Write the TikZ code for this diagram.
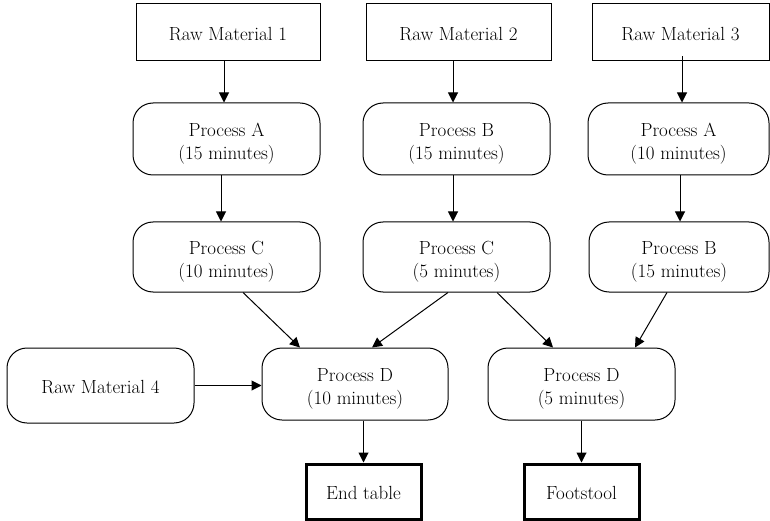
\documentclass[tikz,border=0pt]{standalone}
\usetikzlibrary{arrows.meta}
\newcommand\toppad{\rule{0pt}{23pt}}
\begin{document}
\begin{tikzpicture}[x=1pt,y=-1pt,
  base/.style={draw=black,line width=1pt,align=center,inner sep=0pt,
    font=\fontsize{19}{23.5}\selectfont,text=black},
  rawbox/.style={base,rectangle,minimum width=#1,minimum height=57pt},
  procbox/.style={base,rectangle,rounded corners=20pt,minimum width=#1,minimum height=72pt},
  endbox/.style={base,rectangle,line width=3pt,minimum width=115pt,minimum height=55pt},
  arr/.style={line width=1pt,-{Triangle[length=10pt,width=10pt]}}]
\useasboundingbox (0,0) rectangle (770,521);
% row 1
\node[rawbox=184pt] (rm1) at (228,32.5) {\rule{0pt}{16pt}Raw Material 1};
\node[rawbox=185pt] (rm2) at (458.5,32.5) {\rule{0pt}{16pt}Raw Material 2};
\node[rawbox=177pt] (rm3) at (680.5,32.5) {\rule{0pt}{16pt}Raw Material 3};
% row 2
\node[procbox=187pt] (pa1) at (226.5,139) {\toppad Process A\\(15 minutes)};
\node[procbox=187pt] (pb1) at (456.5,139) {\toppad Process B\\(15 minutes)};
\node[procbox=181pt] (pa3) at (678.5,139) {\toppad Process A\\(10 minutes)};
% row 3
\node[procbox=187pt,minimum height=70pt] (pc1) at (226.5,257) {\toppad Process C\\(10 minutes)};
\node[procbox=187pt,minimum height=70pt] (pc2) at (456.5,257) {\toppad Process C\\(5 minutes)};
\node[procbox=180pt,minimum height=70pt] (pb3) at (679,257) {\toppad Process B\\(15 minutes)};
% row 4
\node[procbox=187pt,minimum height=75pt] (rm4) at (100.5,385.5) {\rule{0pt}{16pt}Raw Material 4};
\node[procbox=186pt] (pd1) at (355,384) {\toppad Process D\\(10 minutes)};
\node[procbox=187pt] (pd2) at (581.5,384) {\toppad Process D\\(5 minutes)};
% row 5
\node[endbox] (et) at (363.5,491.5) {\rule{0pt}{16pt}End table};
\node[endbox] (fs) at (581.5,491.5) {\rule{0pt}{16pt}Footstool};
% arrows
\draw[arr] ([xshift=-4pt]rm1.south) -- ([xshift=-4pt]rm1.south |- pa1.north);
\draw[arr] ([xshift=-5.5pt]pa1.south) -- ([xshift=-5.5pt]pa1.south |- pc1.north);
\draw[arr] ([xshift=-5.5pt]rm2.south) -- ([xshift=-5.5pt]rm2.south |- pb1.north);
\draw[arr] ([xshift=-3.5pt]pb1.south) -- ([xshift=-3.5pt]pb1.south |- pc2.north);
\draw[arr] ([xshift=1.5pt,yshift=5pt]rm3.south) -- ([xshift=1.5pt]rm3.south |- pa3.north);
\draw[arr] ([xshift=1.5pt]pa3.south) -- ([xshift=1.5pt]pa3.south |- pb3.north);
\draw[arr] ([xshift=16.5pt]pc1.south) -- ([xshift=-55pt]pd1.north);
\draw[arr] ([xshift=-8.5pt]pc2.south) -- ([xshift=17pt]pd1.north);
\draw[arr] ([xshift=40.5pt]pc2.south) -- ([xshift=-28.5pt]pd2.north);
\draw[arr] ([xshift=-12pt]pb3.south) -- ([xshift=53.5pt]pd2.north);
\draw[arr] (rm4.east) -- (rm4.east -| pd1.west);
\draw[arr] (et.north |- pd1.south) -- (et.north);
\draw[arr] (fs.north |- pd2.south) -- (fs.north);
\end{tikzpicture}
\end{document}
